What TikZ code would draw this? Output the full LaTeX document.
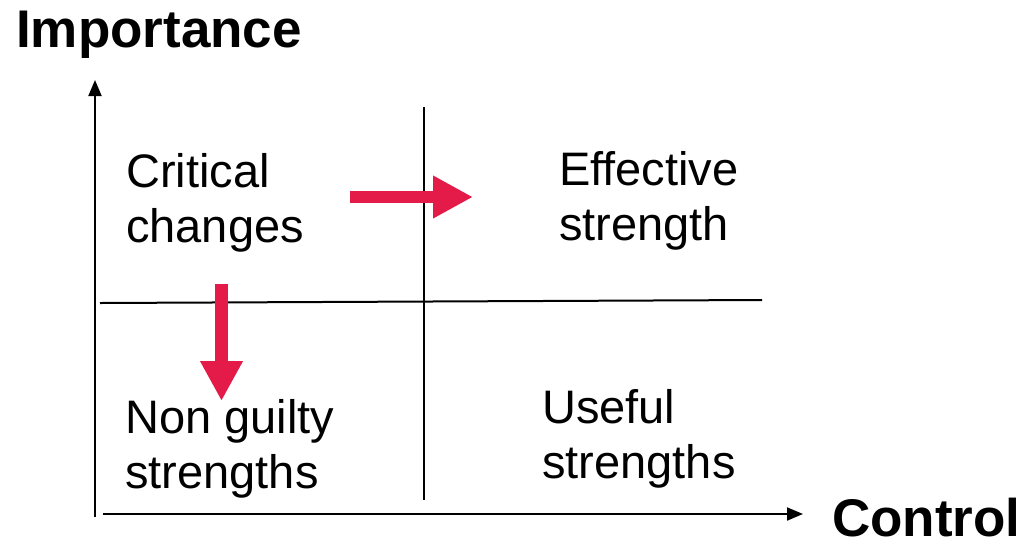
\documentclass[tikz,border=0pt]{standalone}
\usepackage{fontspec}
\setmainfont{Liberation Sans}
\usetikzlibrary{arrows.meta}

\begin{document}
\begin{tikzpicture}[x=1pt, y=-1pt,
    axis/.style={line width=2pt, -{Triangle[length=16pt, width=13pt]}},
    divider/.style={line width=2pt},
    move/.style={line width=12.5pt, draw={rgb,255:red,228;green,26;blue,72},
      -{Triangle[length=40pt, width=40pt]}},
    label/.style={anchor=base west, inner sep=0pt, align=left,
      font=\fontsize{47}{54.5}\selectfont},
    axislabel/.style={anchor=base west, inner sep=0pt,
      font=\fontsize{53}{60}\selectfont\bfseries}]
      \useasboundingbox (0, 0) rectangle (1026, 542);
      % axes
      \coordinate (ybot) at (95, 517);
      \coordinate (ytop) at (95, 80);
      \coordinate (xleft) at (103, 514);
      \coordinate (xright) at (803, 514);
      \draw[axis] (ybot) -- (ytop);
      \draw[axis] (xleft) -- (xright);
      \node[axislabel] (imp) at (16, 47) {Importance};
      \node[axislabel] (ctl) at (832, 536) {Control};
      % quadrant lines
      \coordinate (vtop) at (424, 107);
      \coordinate (vbot) at (424, 500);
      \coordinate (hleft) at (100, 303);
      \coordinate (hright) at (762, 300);
      \draw[divider] (vtop) -- (vbot);
      \draw[divider] (hleft) -- (hright);
      % quadrants (base is the last line)
      \node[label] (crit) at (126, 242) {Critical\\changes};
      \node[label] (eff) at (559, 240) {Effective\\strength};
      \node[label] (nong) at (125, 488) {Non guilty\\strengths};
      \node[label] (use) at (542, 478) {Useful\\strengths};
      % moves
      \coordinate (rstart) at (350, 197);
      \coordinate (rend) at (473, 197);
      \coordinate (dstart) at (221.5, 284);
      \coordinate (dend) at (221.5, 401);
      \draw[move] (rstart) -- (rend);
      \draw[move] (dstart) -- (dend);
    \end{tikzpicture}
\end{document}
